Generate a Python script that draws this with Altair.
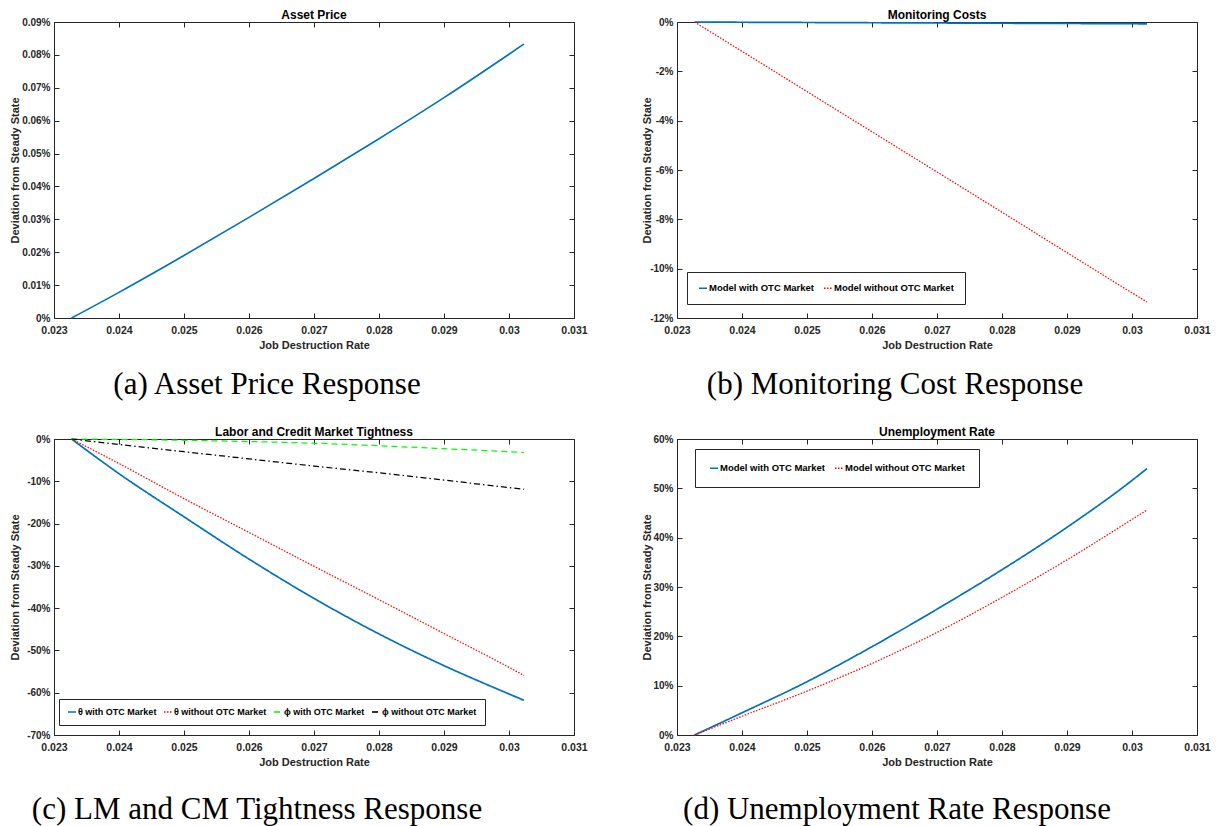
import altair as alt
import pandas as pd

# ---------------- data ----------------
jd_rate = [0.02327, 0.024, 0.025, 0.026, 0.027, 0.028, 0.029, 0.030, 0.03023]
x_ticks = [0.023, 0.024, 0.025, 0.026, 0.027, 0.028, 0.029, 0.03, 0.031]

asset_price = [0.0, 0.0078, 0.0190, 0.0306, 0.0424, 0.0545, 0.0670, 0.0802, 0.0833]
asset_ticks = [0, 0.01, 0.02, 0.03, 0.04, 0.05, 0.06, 0.07, 0.08, 0.09]

monitor_with_otc = [0.0, -0.01, -0.02, -0.03, -0.04, -0.05, -0.06, -0.07, -0.075]
monitor_without_otc = [0.0, -1.19, -2.82, -4.45, -6.08, -7.71, -9.35, -10.98, -11.35]
monitor_ticks = [-12, -10, -8, -6, -4, -2, 0]

theta_with_otc = [0.0, -8.2, -18.4, -28.4, -37.7, -46.1, -53.6, -60.3, -61.8]
theta_without_otc = [0.0, -5.8, -14.1, -22.1, -30.1, -38.0, -46.0, -54.0, -55.9]
phi_with_otc = [0.0, -0.1, -0.3, -0.6, -1.0, -1.6, -2.3, -3.0, -3.2]
phi_without_otc = [0.0, -1.3, -3.0, -4.7, -6.4, -8.0, -9.7, -11.5, -11.9]
tight_ticks = [-70, -60, -50, -40, -30, -20, -10, 0]

unemp_with_otc = [0.0, 4.5, 10.8, 17.9, 25.5, 33.5, 42.1, 51.6, 54.0]
unemp_without_otc = [0.0, 3.8, 8.9, 14.5, 20.8, 27.9, 35.5, 43.7, 45.6]
unemp_ticks = [0, 10, 20, 30, 40, 50, 60]

series_model = ["Model with OTC Market", "Model without OTC Market"]
series_tight = ["θ with OTC Market", "θ without OTC Market",
                "ϕ with OTC Market", "ϕ without OTC Market"]

titles = ["Asset Price", "Monitoring Costs",
          "Labor and Credit Market Tightness", "Unemployment Rate"]
captions = ["(a) Asset Price Response", "(b) Monitoring Cost Response",
            "(c) LM and CM Tightness Response", "(d) Unemployment Rate Response"]
x_title = "Job Destruction Rate"
y_title = "Deviation from Steady State"


def long_df(names, values):
    rows = []
    for name, vals in zip(names, values):
        for r, v in zip(jd_rate, vals):
            rows.append({"rate": r, "value": v, "series": name})
    return pd.DataFrame(rows)


# ---------------- styling ----------------
W, H = 520, 296
BLUE, RED, GREEN, BLACK = "#0072BD", "#FF0000", "#00FF00", "#000000"
INK = "#262626"
SANS = "Liberation Sans"
DASHES = [[1, 0], [1.5, 1.5], [6, 4], [6, 3, 1.5, 3]]


def make_legend(lx, ly, pad, fs=9.5, colpad=5):
    return alt.Legend(
        title=None, orient="none", legendX=lx, legendY=ly,
        direction="horizontal", fillColor="white", strokeColor=INK,
        padding=pad, labelFont=SANS, labelFontWeight="bold",
        labelFontSize=fs, labelColor="black", symbolType="stroke",
        symbolSize=64, symbolStrokeWidth=1.6, labelOffset=1,
        columnPadding=colpad,
    )


def panel(df, ydomain, yticks, title, caption, cap_x, cap_dy, ytitle_x,
          names=None, colors=None, legend=None):
    xscale = alt.Scale(domain=[0.023, 0.031], nice=False, zero=False)
    yscale = alt.Scale(domain=ydomain, nice=False, zero=False)
    x_axis = alt.Axis(values=x_ticks, labelExpr="datum.value + ''",
                      title=x_title, ticks=False, labelPadding=7,
                      titlePadding=4, labelFlush=False)
    y_axis = alt.Axis(values=yticks, labelExpr="datum.value + '%'",
                      title=y_title, ticks=False, labelPadding=4,
                      titleX=ytitle_x, labelFlush=False)
    base = alt.Chart(df)
    if legend is None:
        line = base.mark_line(color=BLUE, strokeWidth=1.6,
                              interpolate="monotone").encode(
            x=alt.X("rate:Q", scale=xscale, axis=x_axis),
            y=alt.Y("value:Q", scale=yscale, axis=y_axis),
        )
    else:
        line = base.mark_line(interpolate="monotone").encode(
            x=alt.X("rate:Q", scale=xscale, axis=x_axis),
            y=alt.Y("value:Q", scale=yscale, axis=y_axis),
            color=alt.Color("series:N", sort=names,
                            scale=alt.Scale(domain=names, range=colors),
                            legend=legend),
            strokeDash=alt.StrokeDash("series:N", sort=names,
                                      scale=alt.Scale(domain=names,
                                                      range=DASHES[:len(names)]),
                                      legend=legend),
            strokeWidth=alt.StrokeWidth("lw:Q", scale=None, legend=None),
        ).transform_calculate(
            lw=f"datum.series === '{names[0]}' ? 1.7 : 1.25"
        )

    tick_kw = dict(labels=False, title=None, tickSize=5, tickColor=INK,
                   tickWidth=1, domain=False, grid=False)
    inner1 = base.mark_point(opacity=0).encode(
        x=alt.X("rate:Q", scale=xscale,
                axis=alt.Axis(orient="top", offset=-H, values=x_ticks, **tick_kw)),
        y=alt.Y("value:Q", scale=yscale,
                axis=alt.Axis(orient="right", offset=-W, values=yticks, **tick_kw)),
    )
    inner2 = base.mark_point(opacity=0).encode(
        x=alt.X("rate:Q", scale=xscale,
                axis=alt.Axis(orient="bottom", offset=-H, values=x_ticks, **tick_kw)),
        y=alt.Y("value:Q", scale=yscale,
                axis=alt.Axis(orient="left", offset=-W, values=yticks, **tick_kw)),
    )
    cap = alt.Chart(pd.DataFrame({"caption": [caption]})).mark_text(
        font="Liberation Serif", fontSize=31, baseline="alphabetic",
        align="center", color="black",
    ).encode(text="caption:N", x=alt.value(cap_x), y=alt.value(H + cap_dy))

    return alt.layer(line, inner1, inner2, cap).resolve_axis(
        x="independent", y="independent"
    ).properties(width=W, height=H, title=alt.Title(title, offset=-5))


pa = panel(long_df(["Asset Price"], [asset_price]), [0, 0.09], asset_ticks,
           titles[0], captions[0], 213, 76, -34)
pb = panel(long_df(series_model, [monitor_with_otc, monitor_without_otc]),
           [-12, 0], monitor_ticks, titles[1], captions[1], 218, 76, -25,
           names=series_model, colors=[BLUE, RED],
           legend=make_legend(10, H - 46, 11))
pc = panel(long_df(series_tight, [theta_with_otc, theta_without_otc,
                                  phi_with_otc, phi_without_otc]),
           [-70, 0], tight_ticks, titles[2], captions[2], 203, 84, -34,
           names=series_tight, colors=[BLUE, RED, GREEN, BLACK],
           legend=make_legend(5, H - 36, 8, fs=9, colpad=3))
pd_ = panel(long_df(series_model, [unemp_with_otc, unemp_without_otc]),
            [0, 60], unemp_ticks, titles[3], captions[3], 220, 84, -25,
            names=series_model, colors=[BLUE, RED],
            legend=make_legend(18, 10, 14))

chart = alt.concat(
    pa, pb, pc, pd_, columns=2, spacing={"row": 24, "column": 52}
).resolve_scale(
    x="independent", y="independent", color="independent",
    strokeDash="independent",
).properties(
    padding=0
).configure_view(
    stroke=INK, strokeWidth=1
).configure_axis(
    labelFont=SANS, labelFontWeight="bold", labelColor=INK,
    titleFont=SANS, titleFontWeight="bold", titleFontSize=11,
    titleColor=INK, grid=False, domain=False,
).configure_axisX(
    labelFontSize=10.5
).configure_axisY(
    labelFontSize=10
).configure_title(
    font=SANS, fontSize=12, fontWeight="bold", color="black", anchor="middle"
)

chart.save("out.html", embed_options={"renderer": "svg", "actions": False})
